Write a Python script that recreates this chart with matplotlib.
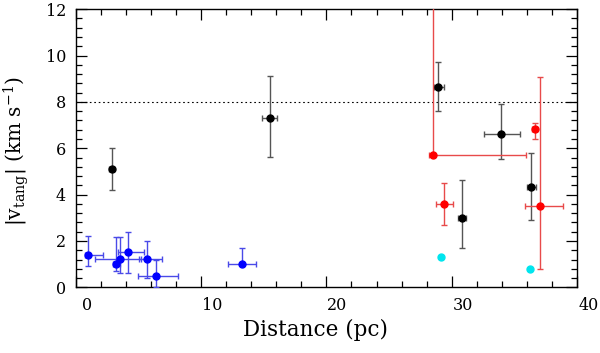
import matplotlib.pyplot as plt
import matplotlib.transforms as mtransforms
from matplotlib.ticker import MultipleLocator

plt.rcParams['font.family'] = 'DejaVu Serif'
plt.rcParams['mathtext.fontset'] = 'dejavuserif'

# blue group
blue_x = [0.98, 3.26, 3.58, 4.16, 5.73, 6.45, 13.24]
blue_y = [1.41, 1.02, 1.21, 1.51, 1.21, 0.49, 1.00]
blue_xlo = [0.2, 0.3, 2.04, 0.76, 0.7, 1.51, 1.06]
blue_xhi = [1.22, 0.3, 1.67, 1.28, 1.15, 1.72, 1.12]
blue_ylo = [0.5, 0.32, 0.59, 0.89, 0.82, 0.49, 0.0]
blue_yhi = [0.8, 1.16, 0.97, 0.89, 0.79, 0.69, 0.71]

# black group
black_x = [2.89, 15.5, 28.93, 33.9, 36.33, 30.8]
black_y = [5.10, 7.32, 8.63, 6.62, 4.32, 3.00]
black_xlo = [0.2, 0.6, 0.38, 1.3, 0.35, 0.3]
black_xhi = [0.2, 0.6, 0.45, 1.5, 0.35, 0.3]
black_ylo = [0.9, 1.71, 1.01, 1.10, 1.42, 1.29]
black_yhi = [0.9, 1.78, 1.11, 1.29, 1.49, 1.62]

# red group
red_x = [28.5, 36.6, 37.0, 29.4]
red_y = [5.71, 6.83, 3.51, 3.61]
red_xlo = [0.35, 0.2, 1.2, 0.66]
red_xhi = [7.4, 0.2, 1.9, 0.7]
red_ylo = [0.0, 0.42, 2.71, 0.92]
red_yhi = [8.0, 0.27, 5.58, 0.90]

# cyan points
cyan_x = [29.1, 36.2]
cyan_y = [1.32, 0.80]

fig = plt.figure(figsize=(6.0, 3.53), dpi=100)
ax = fig.add_axes([0.126, 0.186, 0.836, 0.788])

groups = [
    (blue_x, blue_y, blue_xlo, blue_xhi, blue_ylo, blue_yhi, '#0000ff', '#4a4ae8'),
    (black_x, black_y, black_xlo, black_xhi, black_ylo, black_yhi, 'black', '#555555'),
    (red_x, red_y, red_xlo, red_xhi, red_ylo, red_yhi, '#ff0000', '#e84a4a'),
]
for x, y, xlo, xhi, ylo, yhi, c, ec in groups:
    ax.errorbar(x, y, xerr=[xlo, xhi], yerr=[ylo, yhi], fmt='o', color=c,
                ecolor=ec, elinewidth=1.0, capsize=2.5, capthick=1.0,
                markersize=5, zorder=3)

ax.plot(cyan_x, cyan_y, 'o', color='#00e5ee', markersize=5, zorder=3)

ax.axhline(8, color='black', linestyle=(0, (1.5, 2.5)), linewidth=0.8)

ax.set_xlim(0, 40)
ax.set_ylim(0, 12)
ax.xaxis.set_major_locator(MultipleLocator(10))
ax.xaxis.set_minor_locator(MultipleLocator(2))
ax.yaxis.set_major_locator(MultipleLocator(2))
ax.yaxis.set_minor_locator(MultipleLocator(0.4))
ax.tick_params(which='both', direction='in', top=True, right=True, labelsize=11.5, width=0.9)
ax.tick_params(which='major', length=8, pad=7)
ax.tick_params(which='minor', length=4)
for s in ax.spines.values():
    s.set_linewidth(1.0)

# x tick labels sit slightly right of their ticks in the reference
shift = mtransforms.ScaledTranslation(11 / 100, 0, fig.dpi_scale_trans)
for lab in ax.get_xticklabels():
    lab.set_transform(lab.get_transform() + shift)

ax.set_xlabel('Distance (pc)', fontsize=15.5)
ax.xaxis.set_label_coords(0.479, -0.115)
ax.set_ylabel(r'|v$_{\rm tang}$| (km s$^{-1}$)', fontsize=14.5)
ax.yaxis.set_label_coords(-0.088, 0.49)

fig.savefig('out.png', dpi=100)
